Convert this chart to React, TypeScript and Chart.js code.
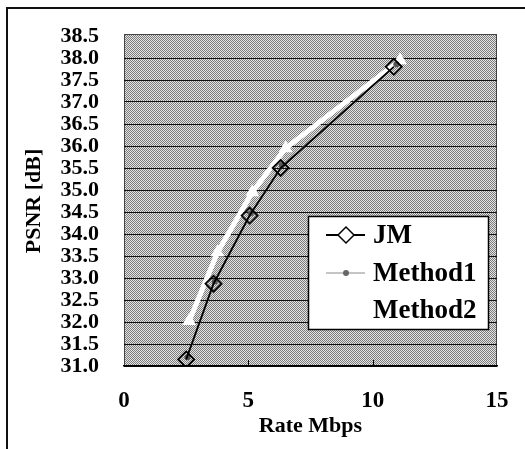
import React, { useEffect, useRef } from 'react';
import { Chart, registerables } from 'chart.js';
Chart.register(...registerables);

// ---- data ----
const seriesNames = ['JM', 'Method1', 'Method2'];
const jmRate = [2.5, 3.6, 5.05, 6.3, 10.85];
const jmPsnr = [31.15, 32.87, 34.42, 35.5, 37.8];
const m1Rate = [2.55, 3.65, 5.1, 6.35, 10.95];
const m1Psnr = [31.2, 32.92, 34.47, 35.56, 37.86];
const m2Rate = [2.62, 3.76, 5.16, 6.5, 11.1];
const m2Psnr = [32.02, 33.58, 34.95, 35.95, 37.95];
const xMin = 0;
const xMax = 15;
const xStep = 5;
const yMin = 31.0;
const yMax = 38.5;
const yStep = 0.5;
const xTitle = 'Rate Mbps';
const yTitle = 'PSNR [dB]';

const FONT = "'Liberation Serif', 'Times New Roman', serif";

const toPts = (xs: number[], ys: number[]) => xs.map((x, i) => ({ x, y: ys[i] }));

export default function App() {
  const ref = useRef<HTMLCanvasElement | null>(null);

  useEffect(() => {
    const canvas = ref.current!;
    // dithered gray pattern for plot background
    const pc = document.createElement('canvas');
    pc.width = 2;
    pc.height = 2;
    const pctx = pc.getContext('2d')!;
    pctx.fillStyle = '#e4e4e4';
    pctx.fillRect(0, 0, 2, 2);
    pctx.fillStyle = '#7c7c7c';
    pctx.fillRect(0, 0, 1, 1);
    pctx.fillRect(1, 1, 1, 1);
    const ctx0 = canvas.getContext('2d')!;
    const pattern = ctx0.createPattern(pc, 'repeat');

    const decor = {
      id: 'decor',
      beforeDraw(chart: any) {
        const { ctx, chartArea: a } = chart;
        ctx.save();
        ctx.fillStyle = '#ffffff';
        ctx.fillRect(0, 0, chart.width, chart.height);
        // outer frame (left + top)
        ctx.fillStyle = '#111';
        ctx.fillRect(6, 7, 2, chart.height - 7);
        ctx.fillRect(6, 7, chart.width - 6, 2);
        // plot background
        ctx.fillStyle = pattern || '#b0b0b0';
        ctx.fillRect(a.left, a.top - 2, a.right - a.left, a.bottom - a.top + 2);
        ctx.strokeStyle = '#444';
        ctx.lineWidth = 1;
        ctx.strokeRect(a.left + 0.5, a.top - 1.5, a.right - a.left - 1, a.bottom - a.top + 2);
        ctx.restore();
      },
      afterDatasetsDraw(chart: any) {
        const { ctx, chartArea: a, scales } = chart;
        ctx.save();
        // inner tick marks on x axis
        ctx.strokeStyle = '#000';
        ctx.lineWidth = 1;
        for (let v = xMin + xStep; v < xMax; v += xStep) {
          const px = Math.round(scales.x.getPixelForValue(v)) + 0.5;
          ctx.beginPath();
          ctx.moveTo(px, a.bottom);
          ctx.lineTo(px, a.bottom - 6);
          ctx.stroke();
        }
        // legend box
        const lx = a.right - 189;
        const ly = a.top + 180;
        const w = 180;
        const h = 113;
        ctx.fillStyle = '#ffffff';
        ctx.fillRect(lx, ly, w, h);
        ctx.strokeStyle = '#000';
        ctx.lineWidth = 1.5;
        ctx.strokeRect(lx + 0.5, ly + 0.5, w, h);
        const rows = [19, 57, 94];
        chart.data.datasets.forEach((ds: any, i: number) => {
          const cy = ly + rows[i];
          const x0 = lx + 18;
          const x1 = lx + 57;
          const cx = lx + 38;
          ctx.strokeStyle = ds.borderColor;
          ctx.lineWidth = ds.borderWidth;
          ctx.beginPath();
          ctx.moveTo(x0, cy);
          ctx.lineTo(x1, cy);
          ctx.stroke();
          if (i === 0) {
            const r = 8;
            ctx.fillStyle = '#fff';
            ctx.strokeStyle = '#000';
            ctx.lineWidth = 1.5;
            ctx.beginPath();
            ctx.moveTo(cx - r, cy);
            ctx.lineTo(cx, cy - r);
            ctx.lineTo(cx + r, cy);
            ctx.lineTo(cx, cy + r);
            ctx.closePath();
            ctx.fill();
            ctx.stroke();
          } else if (i === 1) {
            ctx.fillStyle = '#666';
            ctx.beginPath();
            ctx.arc(cx, cy, 3, 0, Math.PI * 2);
            ctx.fill();
          }
          ctx.fillStyle = '#000';
          ctx.font = `bold 27px ${FONT}`;
          ctx.textAlign = 'left';
          ctx.textBaseline = 'middle';
          ctx.fillText(ds.label, lx + 65, cy + 1);
        });
        ctx.restore();
      },
    };

    const chart = new Chart(canvas, {
      type: 'line',
      data: {
        datasets: [
          {
            label: seriesNames[0],
            data: toPts(jmRate, jmPsnr),
            borderColor: '#000',
            borderWidth: 1.8,
            pointStyle: 'rectRot',
            pointRadius: 8,
            pointBorderWidth: 1.8,
            pointBorderColor: '#000',
            pointBackgroundColor: 'rgba(0,0,0,0)',
            tension: 0,
          },
          {
            label: seriesNames[1],
            data: toPts(m1Rate, m1Psnr),
            borderColor: '#8a8a8a',
            borderWidth: 1,
            pointStyle: 'circle',
            pointRadius: 3,
            pointBorderWidth: 0,
            pointBackgroundColor: '#555',
            tension: 0,
          },
          {
            label: seriesNames[2],
            data: toPts(m2Rate, m2Psnr),
            borderColor: '#ffffff',
            borderWidth: 5,
            pointStyle: 'triangle',
            pointRadius: 8,
            pointBorderWidth: 0,
            pointBackgroundColor: '#ffffff',
            tension: 0,
          },
        ],
      },
      options: {
        responsive: false,
        animation: false,
        layout: { padding: { left: 0, top: 34, right: 28, bottom: 0 } },
        plugins: { legend: { display: false }, tooltip: { enabled: false } },
        scales: {
          x: {
            type: 'linear',
            min: xMin,
            max: xMax,
            afterFit: (s: any) => {
              s.height = 83;
              s.paddingLeft = 0;
              s.paddingRight = 0;
            },
            ticks: {
              stepSize: xStep,
              color: '#000',
              font: { family: FONT, size: 23, weight: 'bold' },
              padding: 21,
              maxRotation: 0,
              autoSkip: false,
            },
            grid: { display: false, drawTicks: false },
            border: { display: true, color: '#000', width: 1.5 },
            title: {
              display: true,
              text: xTitle,
              color: '#000',
              font: { family: FONT, size: 22, weight: 'bold' },
              padding: { top: 9, bottom: 9 },
            },
          },
          y: {
            type: 'linear',
            min: yMin,
            max: yMax,
            afterFit: (s: any) => {
              s.width = 124;
            },
            ticks: {
              stepSize: yStep,
              color: '#000',
              font: { family: FONT, size: 22, weight: 'bold', lineHeight: 1 },
              padding: 25,
              autoSkip: false,
              callback: (v: any) => Number(v).toFixed(1),
            },
            grid: {
              drawTicks: false,
              lineWidth: 1,
              color: (c: any) => (c.tick && c.tick.value === yMax ? 'rgba(0,0,0,0)' : '#111'),
            },
            border: { display: false },
            title: {
              display: true,
              text: yTitle,
              color: '#000',
              font: { family: FONT, size: 22, weight: 'bold' },
              padding: { top: 21, bottom: 21 },
            },
          },
        },
      },
      plugins: [decor],
    } as any);

    return () => chart.destroy();
  }, []);

  return (
    <div style={{ position: 'fixed', left: 0, top: 0, width: 525, height: 449, background: '#fff' }}>
      <canvas ref={ref} width={525} height={449} style={{ display: 'block' }} />
    </div>
  );
}
